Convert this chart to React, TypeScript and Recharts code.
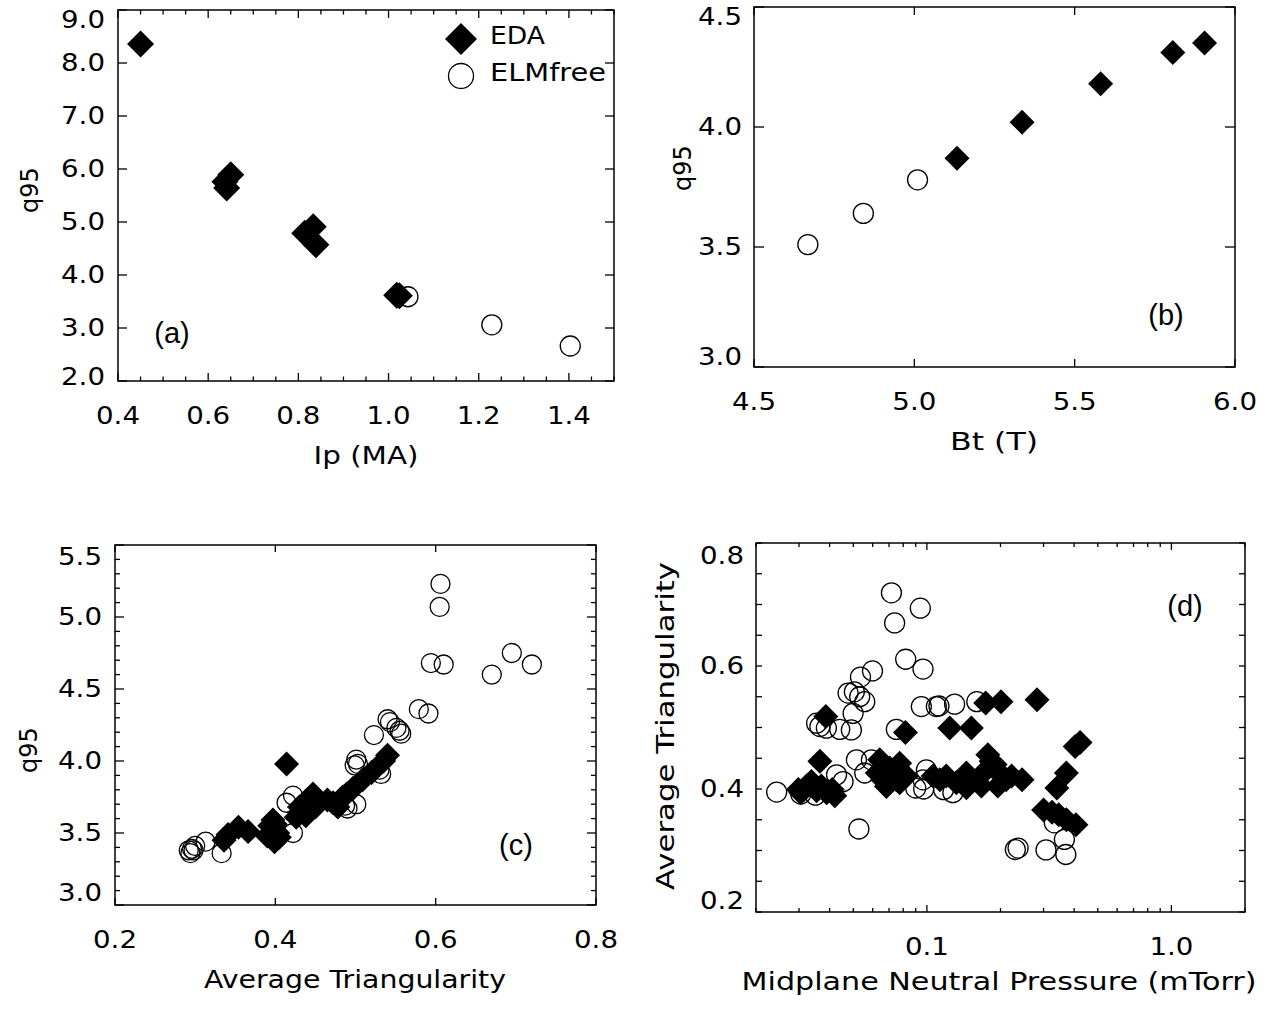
import React from 'react';
import { ScatterChart, Scatter, XAxis, YAxis, ReferenceArea, Legend } from 'recharts';

// ---------------- Panel (a): q95 vs Ip (MA) ----------------
const aEdaIp = [0.45, 0.637, 0.641, 0.65, 0.814, 0.833, 0.839, 1.018, 1.024];
const aEdaQ95 = [8.36, 5.76, 5.64, 5.89, 4.79, 4.91, 4.57, 3.62, 3.61];
const aElmIp = [1.043, 1.229, 1.403];
const aElmQ95 = [3.59, 3.06, 2.66];
const aXTicks = [0.4, 0.45, 0.5, 0.55, 0.6, 0.65, 0.7, 0.75, 0.8, 0.85, 0.9, 0.95, 1.0, 1.05, 1.1, 1.15, 1.2, 1.25, 1.3, 1.35, 1.4, 1.45, 1.5];
const aXLabels = [0.4, 0.6, 0.8, 1.0, 1.2, 1.4];
const aYTicks = [2, 3, 4, 5, 6, 7, 8, 9];

// ---------------- Panel (b): q95 vs Bt (T) ----------------
const bEdaBt = [5.133, 5.336, 5.581, 5.806, 5.905];
const bEdaQ95 = [3.87, 4.02, 4.18, 4.31, 4.35];
const bElmBt = [4.668, 4.841, 5.01];
const bElmQ95 = [3.51, 3.64, 3.78];
const bXTicks = [4.5, 5.0, 5.5, 6.0];
const bYTicks = [3.0, 3.5, 4.0, 4.5];

// ---------------- Panel (c): q95 vs Average Triangularity ----------------
const cEdaTri = [0.414, 0.540, 0.535, 0.520, 0.509, 0.497, 0.489, 0.484, 0.472, 0.478, 0.465, 0.447, 0.450, 0.438, 0.434, 0.438, 0.426, 0.430, 0.397, 0.397, 0.390, 0.403, 0.399, 0.405, 0.366, 0.354, 0.341, 0.336, 0.440, 0.445, 0.430, 0.455, 0.393, 0.400];
const cEdaQ95 = [3.98, 4.04, 4.00, 3.92, 3.87, 3.81, 3.77, 3.75, 3.71, 3.68, 3.73, 3.77, 3.68, 3.72, 3.66, 3.62, 3.61, 3.68, 3.59, 3.52, 3.48, 3.50, 3.44, 3.47, 3.51, 3.54, 3.49, 3.45, 3.70, 3.74, 3.64, 3.72, 3.55, 3.56];
const cElmTri = [0.606, 0.605, 0.594, 0.610, 0.695, 0.720, 0.670, 0.579, 0.591, 0.540, 0.543, 0.551, 0.557, 0.555, 0.523, 0.501, 0.503, 0.499, 0.530, 0.532, 0.414, 0.422, 0.422, 0.501, 0.490, 0.487, 0.333, 0.313, 0.296, 0.292, 0.300, 0.294, 0.298];
const cElmQ95 = [5.23, 5.07, 4.68, 4.67, 4.75, 4.67, 4.60, 4.36, 4.33, 4.29, 4.27, 4.23, 4.19, 4.21, 4.18, 4.01, 3.98, 3.97, 3.94, 3.91, 3.71, 3.76, 3.50, 3.70, 3.67, 3.69, 3.36, 3.44, 3.39, 3.38, 3.41, 3.36, 3.38];
const cXTicks = [0.2, 0.4, 0.6, 0.8];
const cYTicks = [3.0, 3.1, 3.2, 3.3, 3.4, 3.5, 3.6, 3.7, 3.8, 3.9, 4.0, 4.1, 4.2, 4.3, 4.4, 4.5, 4.6, 4.7, 4.8, 4.9, 5.0, 5.1, 5.2, 5.3, 5.4, 5.5];
const cYLabels = [3.0, 3.5, 4.0, 4.5, 5.0, 5.5];

// ---------------- Panel (d): Average Triangularity vs Midplane Neutral Pressure ----------------
const dEdaP = [0.0386, 0.0365, 0.0817, 0.124, 0.152, 0.174, 0.201, 0.282,
  0.0298, 0.0322, 0.0337, 0.0354, 0.037, 0.0389, 0.041, 0.042, 0.0305,
  0.0641, 0.0626, 0.0705, 0.0774, 0.075, 0.0683, 0.0774, 0.0824, 0.066,
  0.106, 0.12, 0.132, 0.145, 0.154, 0.1775, 0.185, 0.17, 0.198, 0.211, 0.195, 0.222, 0.245, 0.167, 0.145, 0.113, 0.183, 0.19,
  0.423, 0.404, 0.372, 0.34, 0.30, 0.346, 0.372, 0.407, 0.325];
const dEdaTri = [0.518, 0.445, 0.492, 0.499, 0.499, 0.540, 0.542, 0.545,
  0.399, 0.405, 0.412, 0.397, 0.405, 0.394, 0.399, 0.389, 0.394,
  0.4475, 0.426, 0.434, 0.442, 0.415, 0.404, 0.410, 0.421, 0.415,
  0.421, 0.421, 0.410, 0.426, 0.415, 0.4556, 0.437, 0.426, 0.426, 0.415, 0.405, 0.421, 0.415, 0.405, 0.402, 0.415, 0.445, 0.44,
  0.4756, 0.469, 0.426, 0.4016, 0.366, 0.358, 0.350, 0.342, 0.362];
const dElmP = [0.0243, 0.0716, 0.0738, 0.094, 0.0819, 0.0964, 0.0599, 0.0535, 0.0476, 0.0505, 0.0531, 0.0557, 0.0499, 0.0491, 0.044, 0.0365, 0.0388, 0.0354, 0.0949, 0.1093, 0.112, 0.1298, 0.160, 0.075, 0.0515, 0.0593, 0.0557, 0.0427, 0.0454, 0.0527, 0.0995, 0.0964, 0.09, 0.097, 0.117, 0.1277, 0.230, 0.236, 0.307, 0.365, 0.37, 0.332, 0.0305, 0.035];
const dElmTri = [0.395, 0.719, 0.670, 0.694, 0.611, 0.595, 0.592, 0.582, 0.556, 0.558, 0.550, 0.542, 0.523, 0.496, 0.497, 0.5015, 0.499, 0.507, 0.534, 0.534, 0.535, 0.538, 0.542, 0.497, 0.4475, 0.4475, 0.426, 0.423, 0.412, 0.335, 0.431, 0.415, 0.4016, 0.40, 0.399, 0.394, 0.3016, 0.304, 0.301, 0.318, 0.2935, 0.345, 0.392, 0.39];
const dXTicks = [0.02, 0.03, 0.04, 0.05, 0.06, 0.07, 0.08, 0.09, 0.1, 0.2, 0.3, 0.4, 0.5, 0.6, 0.7, 0.8, 0.9, 1.0, 2.0];
const dXLabels = [0.1, 1.0];
const dYTicks = [0.2, 0.25, 0.3, 0.35, 0.4, 0.45, 0.5, 0.55, 0.6, 0.65, 0.7, 0.75, 0.8];
const dYLabels = [0.2, 0.4, 0.6, 0.8];

const seriesNames = ['EDA', 'ELMfree'];

// ---------------- helpers ----------------
const zip = (xs: number[], ys: number[]) => xs.map((x, i) => ({ x, y: ys[i] }));
const near = (arr: number[], v: number) => arr.some((a) => Math.abs(a - v) < 1e-6);

const idl: React.CSSProperties = {
  fontFamily: '"DejaVu Sans", Verdana, sans-serif',
  fontSize: 24,
  fill: '#000',
};
const tagFont: React.CSSProperties = {
  fontFamily: '"Liberation Sans", Arial, sans-serif',
  fontSize: 29,
  fill: '#000',
};
const TICK_LEN = 44;

const diamondPath = (cx: number, cy: number, h: number) =>
  `M${cx},${cy - h}L${cx + h},${cy}L${cx},${cy + h}L${cx - h},${cy}Z`;
const makeDiamond = (h: number) => (p: any) => <path d={diamondPath(p.cx, p.cy, h)} fill="#000" />;
const makeCircle = (r: number) => (p: any) => (
  <circle cx={p.cx} cy={p.cy} r={r} fill="none" stroke="#000" strokeWidth={1.3} />
);

type XT = { labels: number[]; majors: number[]; majorLen: number; minorLen: number; plotH: number; labelDy: number };
const makeXTick = (o: XT) => (p: any) => {
  const { x, y, payload } = p;
  const v = payload.value as number;
  const len = near(o.majors, v) ? o.majorLen : o.minorLen;
  return (
    <g>
      <line x1={x} y1={y} x2={x} y2={y - len} stroke="#000" strokeWidth={1.3} />
      <line x1={x} y1={y - o.plotH} x2={x} y2={y - o.plotH + len} stroke="#000" strokeWidth={1.3} />
      {near(o.labels, v) && (
        <text x={x} y={y + o.labelDy} textAnchor="middle" textLength={TICK_LEN} lengthAdjust="spacingAndGlyphs" style={idl}>
          {v.toFixed(1)}
        </text>
      )}
    </g>
  );
};

type YT = {
  labels: number[]; majors: number[]; majorLen: number; minorLen: number; plotW: number;
  lo: number; hi: number; topShift: number; botShift: number; gap: number;
};
const makeYTick = (o: YT) => (p: any) => {
  const { x, y, payload } = p;
  const v = payload.value as number;
  const len = near(o.majors, v) ? o.majorLen : o.minorLen;
  let dy = 0;
  if (Math.abs(v - o.hi) < 1e-6) dy = o.topShift;
  if (Math.abs(v - o.lo) < 1e-6) dy = -o.botShift;
  return (
    <g>
      <line x1={x} y1={y} x2={x + len} y2={y} stroke="#000" strokeWidth={1.3} />
      <line x1={x + o.plotW} y1={y} x2={x + o.plotW - len} y2={y} stroke="#000" strokeWidth={1.3} />
      {near(o.labels, v) && (
        <text x={x - o.gap} y={y + dy} textAnchor="end" dominantBaseline="central" textLength={TICK_LEN} lengthAdjust="spacingAndGlyphs" style={idl}>
          {v.toFixed(1)}
        </text>
      )}
    </g>
  );
};

const Title = (props: any) => {
  const { lx, ly, txt, rot, len } = props;
  return (
    <text
      x={lx}
      y={ly}
      textAnchor="middle"
      transform={rot ? `rotate(-90 ${lx} ${ly})` : undefined}
      textLength={len}
      lengthAdjust={len ? 'spacingAndGlyphs' : undefined}
      style={idl}
    >
      {txt}
    </text>
  );
};

const Tag = (props: any) => {
  const { lx, ly, txt } = props;
  return (
    <text x={lx} y={ly} textAnchor="middle" dominantBaseline="central" style={tagFont}>
      {txt}
    </text>
  );
};

const legendLen: Record<string, number> = { EDA: 55, ELMfree: 116 };
const LegendA = (props: any) => {
  const payload = (props.payload || []) as any[];
  const names = seriesNames.filter((n) => payload.some((e) => e.value === n));
  return (
    <svg width={190} height={80} style={{ display: 'block' }}>
      {names.map((n, i) => {
        const cy = 24 + i * 37;
        return (
          <g key={n}>
            {n === 'EDA' ? (
              <path d={diamondPath(21, cy, 16)} fill="#000" />
            ) : (
              <circle cx={21} cy={cy} r={12.5} fill="none" stroke="#000" strokeWidth={1.3} />
            )}
            <text x={50} y={cy - 4} dominantBaseline="central" textLength={legendLen[n]} lengthAdjust="spacingAndGlyphs" style={{ ...idl, fontSize: 25 }}>
              {n}
            </text>
          </g>
        );
      })}
    </svg>
  );
};

const common = { tickSize: 0, tickMargin: 0, axisLine: false, interval: 0 as const, allowDataOverflow: true };

const PanelA = () => (
  <ScatterChart width={637} height={480} margin={{ top: 10, right: 23, bottom: 69, left: 58 }}>
    <XAxis
      {...common}
      type="number"
      dataKey="x"
      domain={[0.4, 1.5]}
      ticks={aXTicks}
      height={30}
      tick={makeXTick({ labels: aXLabels, majors: aXLabels, majorLen: 8, minorLen: 4.5, plotH: 371, labelDy: 43 })}
      label={<Title lx={366} ly={464} len={105} txt="Ip (MA)" />}
    />
    <YAxis
      {...common}
      type="number"
      dataKey="y"
      domain={[2, 9]}
      ticks={aYTicks}
      width={60}
      tick={makeYTick({ labels: aYTicks, majors: aYTicks, majorLen: 9, minorLen: 9, plotW: 496, lo: 2, hi: 9, topShift: 10, botShift: 4, gap: 13 })}
      label={<Title lx={38} ly={190} rot txt="q95" />}
    />
    <ReferenceArea x1={0.4} x2={1.5} y1={2} y2={9} fill="none" stroke="#000" strokeWidth={1.5}
      label={<Tag lx={172} ly={333} txt="(a)" />} />
    <Scatter name="ELMfree" data={zip(aElmIp, aElmQ95)} shape={makeCircle(10)} isAnimationActive={false} />
    <Scatter name="EDA" data={zip(aEdaIp, aEdaQ95)} shape={makeDiamond(13.5)} isAnimationActive={false} />
    <Legend layout="horizontal" verticalAlign="middle" align="center"
      wrapperStyle={{ left: 440, top: 15, width: 190, height: 80 }} content={LegendA} />
  </ScatterChart>
);

const PanelB = () => (
  <ScatterChart width={638} height={480} margin={{ top: 7, right: 40, bottom: 83, left: 57 }}>
    <XAxis
      {...common}
      type="number"
      dataKey="x"
      domain={[4.5, 6.0]}
      ticks={bXTicks}
      height={30}
      tick={makeXTick({ labels: bXTicks, majors: bXTicks, majorLen: 8, minorLen: 8, plotH: 360, labelDy: 43 })}
      label={<Title lx={357} ly={450} len={88} txt="Bt (T)" />}
    />
    <YAxis
      {...common}
      type="number"
      dataKey="y"
      domain={[3.0, 4.5]}
      ticks={bYTicks}
      width={60}
      tick={makeYTick({ labels: bYTicks, majors: bYTicks, majorLen: 10, minorLen: 10, plotW: 481, lo: 3.0, hi: 4.5, topShift: 10, botShift: 10, gap: 12 })}
      label={<Title lx={54} ly={168} rot txt="q95" />}
    />
    <ReferenceArea x1={4.5} x2={6.0} y1={3.0} y2={4.5} fill="none" stroke="#000" strokeWidth={1.5}
      label={<Tag lx={529} ly={315} txt="(b)" />} />
    <Scatter name="ELMfree" data={zip(bElmBt, bElmQ95)} shape={makeCircle(10)} isAnimationActive={false} />
    <Scatter name="EDA" data={zip(bEdaBt, bEdaQ95)} shape={makeDiamond(12.5)} isAnimationActive={false} />
  </ScatterChart>
);

const PanelC = () => (
  <ScatterChart width={637} height={511} margin={{ top: 45, right: 41, bottom: 76, left: 55 }}>
    <XAxis
      {...common}
      type="number"
      dataKey="x"
      domain={[0.2, 0.8]}
      ticks={cXTicks}
      height={30}
      tick={makeXTick({ labels: cXTicks, majors: cXTicks, majorLen: 7, minorLen: 7, plotH: 360, labelDy: 43 })}
      label={<Title lx={355} ly={488} len={302} txt="Average Triangularity" />}
    />
    <YAxis
      {...common}
      type="number"
      dataKey="y"
      domain={[3.0, 5.5]}
      ticks={cYTicks}
      width={60}
      tick={makeYTick({ labels: cYLabels, majors: cYLabels, majorLen: 9, minorLen: 5, plotW: 481, lo: 3.0, hi: 5.5, topShift: 12, botShift: 12, gap: 13 })}
      label={<Title lx={37} ly={250} rot txt="q95" />}
    />
    <ReferenceArea x1={0.2} x2={0.8} y1={3.0} y2={5.5} fill="none" stroke="#000" strokeWidth={1.5}
      label={<Tag lx={516} ly={345} txt="(c)" />} />
    <Scatter name="ELMfree" data={zip(cElmTri, cElmQ95)} shape={makeCircle(9.5)} isAnimationActive={false} />
    <Scatter name="EDA" data={zip(cEdaTri, cEdaQ95)} shape={makeDiamond(12.5)} isAnimationActive={false} />
  </ScatterChart>
);

const PanelD = () => (
  <ScatterChart width={638} height={511} margin={{ top: 43, right: 30, bottom: 69, left: 59 }}>
    <XAxis
      {...common}
      type="number"
      dataKey="x"
      scale="log"
      domain={[0.02, 2]}
      ticks={dXTicks}
      height={30}
      tick={makeXTick({ labels: dXLabels, majors: dXLabels, majorLen: 7, minorLen: 4, plotH: 369, labelDy: 43 })}
      label={<Title lx={362} ly={490} len={515} txt="Midplane Neutral Pressure (mTorr)" />}
    />
    <YAxis
      {...common}
      type="number"
      dataKey="y"
      domain={[0.2, 0.8]}
      ticks={dYTicks}
      width={60}
      tick={makeYTick({ labels: dYLabels, majors: dYLabels, majorLen: 6, minorLen: 6, plotW: 489, lo: 0.2, hi: 0.8, topShift: 13, botShift: 11, gap: 12 })}
      label={<Title lx={37} ly={226} rot len={328} txt="Average Triangularity" />}
    />
    <ReferenceArea x1={0.02} x2={2} y1={0.2} y2={0.8} fill="none" stroke="#000" strokeWidth={1.5}
      label={<Tag lx={548} ly={106} txt="(d)" />} />
    <Scatter name="ELMfree" data={zip(dElmP, dElmTri)} shape={makeCircle(10)} isAnimationActive={false} />
    <Scatter name="EDA" data={zip(dEdaP, dEdaTri)} shape={makeDiamond(12.5)} isAnimationActive={false} />
  </ScatterChart>
);

export default function App() {
  return (
    <div style={{ position: 'absolute', left: 0, top: 0, width: 1275, height: 1011, background: '#fff' }}>
      <div style={{ position: 'absolute', left: 0, top: 0 }}>
        <PanelA />
      </div>
      <div style={{ position: 'absolute', left: 637, top: 0 }}>
        <PanelB />
      </div>
      <div style={{ position: 'absolute', left: 0, top: 500 }}>
        <PanelC />
      </div>
      <div style={{ position: 'absolute', left: 637, top: 500 }}>
        <PanelD />
      </div>
    </div>
  );
}
